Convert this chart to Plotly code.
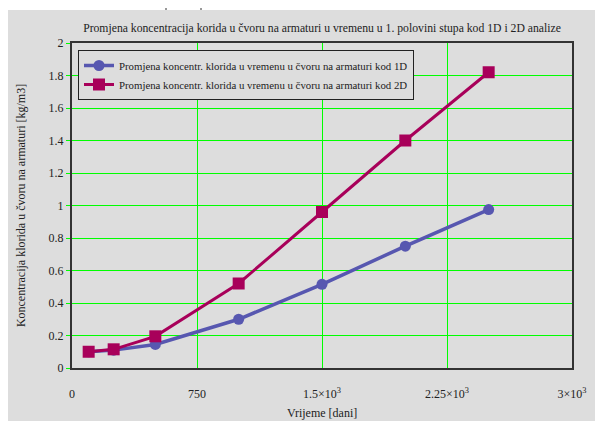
import plotly.graph_objects as go

days = [100, 250, 500, 1000, 1500, 2000, 2500]
conc_1d = [0.10, 0.11, 0.145, 0.30, 0.515, 0.75, 0.975]
conc_2d = [0.10, 0.115, 0.195, 0.52, 0.96, 1.40, 1.82]

x_tickvals = [0, 750, 1500, 2250, 3000]
x_ticktext = ["0", "750", "1.5×10<sup>3</sup>", "2.25×10<sup>3</sup>", "3×10<sup>3</sup>"]
y_tickvals = [0, 0.2, 0.4, 0.6, 0.8, 1, 1.2, 1.4, 1.6, 1.8, 2]
y_ticktext = ["0", "0.2", "0.4", "0.6", "0.8", "1", "1.2", "1.4", "1.6", "1.8", "2"]

name_1d = "Promjena koncentr. klorida u vremenu u čvoru na armaturi kod 1D"
name_2d = "Promjena koncentr. klorida u vremenu u čvoru na armaturi kod 2D"

BG = "#dddddd"
FONT = "Liberation Serif"

fig = go.Figure()
fig.add_trace(go.Scatter(
    x=days, y=conc_1d, name=name_1d, mode="lines+markers",
    line=dict(color="#5757b0", width=3.5),
    marker=dict(symbol="circle", size=11, color="#5757b0"),
))
fig.add_trace(go.Scatter(
    x=days, y=conc_2d, name=name_2d, mode="lines+markers",
    line=dict(color="#a8005a", width=3),
    marker=dict(symbol="square", size=12, color="#a8005a"),
))

OFF = 8  # page body margin
W, H = 603, 421
L, T = 72 - OFF, 43 - OFF
R = W - (572 - OFF)
B = H - (368 - OFF)
pw, ph = W - L - R, H - T - B

def px(x):
    return (x - OFF - L) / pw

def py(y):
    return (H - B - (y - OFF)) / ph

shapes = [
    dict(type="rect", xref="paper", yref="paper", x0=px(8), x1=px(640), y0=py(460), y1=py(10),
         fillcolor=BG, line=dict(width=0), layer="below"),
    dict(type="line", xref="paper", yref="paper", x0=px(166), x1=px(166), y0=py(8), y1=py(10),
         line=dict(color="#333333", width=1)),
    dict(type="line", xref="paper", yref="paper", x0=px(201), x1=px(201), y0=py(8), y1=py(10),
         line=dict(color="#333333", width=1)),
]

fig.update_layout(
    width=W, height=H,
    margin=dict(l=L, r=R, t=T, b=B, autoexpand=False),
    paper_bgcolor="white",
    plot_bgcolor=BG,
    font=dict(family=FONT, size=12, color="#222222"),
    shapes=shapes,
    title=dict(
        text="Promjena koncentracija korida u čvoru na armaturi u vremenu u 1. polovini stupa kod 1D i 2D analize",
        x=0.5, xref="paper", y=1 - (28 - OFF) / H, yref="container", yanchor="middle",
        font=dict(family=FONT, size=11.7, color="#222222"),
    ),
    legend=dict(
        x=px(78), y=py(50), xanchor="left", yanchor="top",
        bgcolor=BG, bordercolor="#222222", borderwidth=1,
        font=dict(family=FONT, size=10.8, color="#222222"),
        tracegroupgap=0, itemwidth=30,
    ),
    annotations=[
        dict(text="Vrijeme [dani]", xref="paper", yref="paper", x=0.5, y=py(413),
             xanchor="center", yanchor="middle", showarrow=False,
             font=dict(family=FONT, size=12, color="#222222")),
    ],
    showlegend=True,
)

fig.update_xaxes(
    range=[0, 3000], tickvals=x_tickvals, ticktext=x_ticktext,
    showgrid=True, gridcolor="#00ff00", gridwidth=1,
    zeroline=False, showline=True, linecolor="#333333", linewidth=2, mirror=True,
    ticks="", ticklabelstandoff=14, automargin=False,
    tickfont=dict(family=FONT, size=12),
)
fig.update_yaxes(
    range=[0, 2], tickvals=y_tickvals, ticktext=y_ticktext,
    showgrid=True, gridcolor="#00ff00", gridwidth=1,
    zeroline=False, showline=True, linecolor="#333333", linewidth=2, mirror=True,
    ticks="outside", ticklen=4, tickcolor="#00ff00", automargin=False,
    tickfont=dict(family=FONT, size=12),
    title=dict(text="Koncentracija klorida u čvoru na armaturi [kg/m3]", standoff=20,
               font=dict(family=FONT, size=12)),
)

fig.write_html("out.html")
